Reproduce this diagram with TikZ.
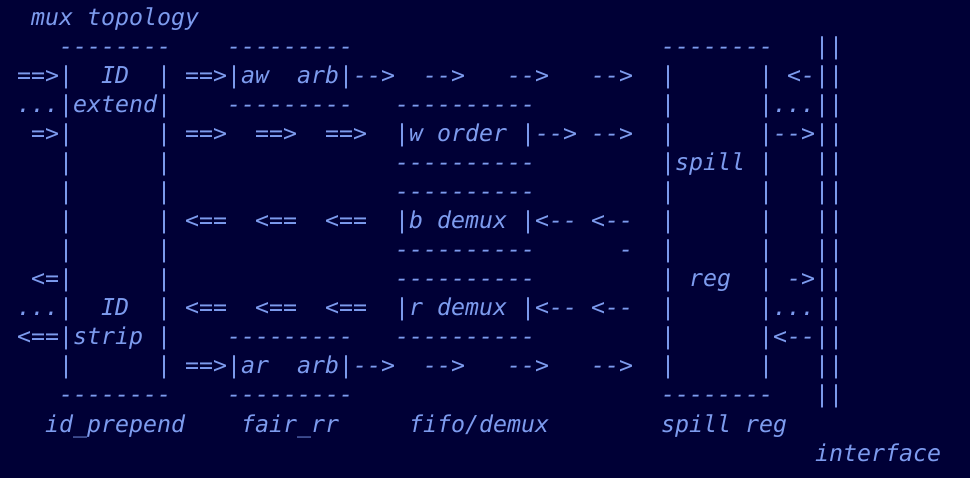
\documentclass[tikz,border=0pt]{standalone}
\usepackage{fontspec}
\setmonofont{DejaVu Sans Mono}
\usepackage{xcolor}
\definecolor{bgnavy}{RGB}{0,0,54}
\definecolor{asciiblue}{RGB}{125,155,238}
\tikzset{
  asciirow/.style={anchor=base west, inner sep=0pt, text=asciiblue,
    font=\ttfamily\itshape\fontsize{23.254}{29}\selectfont}
}

\begin{document}
\begin{tikzpicture}[x=1pt,y=1pt]
    % background
    \fill[bgnavy] (0,0) rectangle (970,-478);
    \useasboundingbox (0,0) rectangle (970,-478);

    % title
    \node[asciirow] (title) at (17,-26) {~mux~topology};

    % the boxes, one text row per line
    \node[asciirow] (row1)  at (17,-55)  {~~~--------~~~~---------~~~~~~~~~~~~~~~~~~~~~~--------~~~||};
    \node[asciirow] (row2)  at (17,-84)  {==>|~~ID~~|~==>|aw~~arb|-->~~-->~~~-->~~~-->~~|~~~~~~|~<-||};
    \node[asciirow] (row3)  at (17,-113) {...|extend|~~~~---------~~~----------~~~~~~~~~|~~~~~~|...||};
    \node[asciirow] (row4)  at (17,-142) {~=>|~~~~~~|~==>~~==>~~==>~~|w~order~|-->~-->~~|~~~~~~|-->||};
    \node[asciirow] (row5)  at (17,-171) {~~~|~~~~~~|~~~~~~~~~~~~~~~~----------~~~~~~~~~|spill~|~~~||};
    \node[asciirow] (row6)  at (17,-200) {~~~|~~~~~~|~~~~~~~~~~~~~~~~----------~~~~~~~~~|~~~~~~|~~~||};
    \node[asciirow] (row7)  at (17,-229) {~~~|~~~~~~|~<==~~<==~~<==~~|b~demux~|<--~<--~~|~~~~~~|~~~||};
    \node[asciirow] (row8)  at (17,-258) {~~~|~~~~~~|~~~~~~~~~~~~~~~~----------~~~~~~-~~|~~~~~~|~~~||};
    \node[asciirow] (row9)  at (17,-287) {~<=|~~~~~~|~~~~~~~~~~~~~~~~----------~~~~~~~~~|~reg~~|~->||};
    \node[asciirow] (row10) at (17,-316) {...|~~ID~~|~<==~~<==~~<==~~|r~demux~|<--~<--~~|~~~~~~|...||};
    \node[asciirow] (row11) at (17,-345) {<==|strip~|~~~~---------~~~----------~~~~~~~~~|~~~~~~|<--||};
    \node[asciirow] (row12) at (17,-374) {~~~|~~~~~~|~==>|ar~~arb|-->~~-->~~~-->~~~-->~~|~~~~~~|~~~||};
    \node[asciirow] (row13) at (17,-403) {~~~--------~~~~---------~~~~~~~~~~~~~~~~~~~~~~--------~~~||};

    % block names
    \node[asciirow] (names) at (17,-432) {~~id\_prepend~~~~fair\_rr~~~~~fifo/demux~~~~~~~~spill~reg};
    \node[asciirow] (iface) at (815,-461) {interface};
\end{tikzpicture}
\end{document}
